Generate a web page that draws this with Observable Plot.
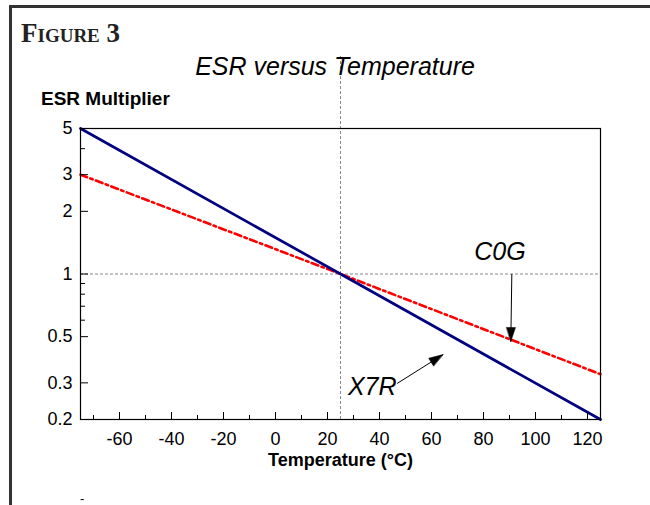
<!DOCTYPE html>
<html><head><meta charset="utf-8">
<script src="https://cdn.jsdelivr.net/npm/d3@7"></script>
<script src="https://cdn.jsdelivr.net/npm/@observablehq/plot@0.6"></script>
<style>
html,body{margin:0;padding:0;background:#fff;overflow:hidden;}
#wrap{position:relative;width:650px;height:505px;overflow:hidden;font-family:"Liberation Sans",Arial,sans-serif;color:#000;}
#wrap svg{position:absolute;left:0;top:0;}
#wrap svg g[aria-label$="tick label"]{font-size:18px;}
.border{position:absolute;left:9px;top:5px;width:700px;height:600px;border-left:3px solid #333;border-top:3px solid #333;box-sizing:border-box;}
.t{position:absolute;line-height:1;white-space:nowrap;}
</style></head><body><div id="wrap"><div class="border"></div></div>
<script>
// ---- data ----
const temps = [-75, 25, 125];
const x7r = [5, 1, 0.2];
const c0g = [3, 1, 0.33];
const xMajorTicks = [-60, -40, -20, 0, 20, 40, 60, 80, 100, 120];
const xMinorTicks = [-70, -50, -30, -10, 10, 30, 50, 70, 90, 110];
const yMajorTicks = [5, 3, 2, 1, 0.5, 0.3, 0.2];
const yMinorTicks = [4, 0.9, 0.8, 0.7, 0.6];
const xDomain = [-75, 125];
const yDomain = [0.2, 5];
const refTemp = [25];
const refMult = [1];
const refTempSpan = [0.2, 11.2];
const labelNames = ["C0G", "X7R"];
const labelTemps = [86.3, 37.2];
const labelMults = [1.27, 0.285];
const arrowFromTemps = [90.9, 46.8];
const arrowFromMults = [1.0, 0.298];
const arrowToTemps = [90.5, 64.4];
const arrowToMults = [0.474, 0.41];

// ---- build tables ----
const W = 650, H = 505, mL = 80, mR = 50, mT = 128, mB = 86;
const series = [
  ...temps.map((t, i) => ({t, v: x7r[i], s: "X7R"})),
  ...temps.map((t, i) => ({t, v: c0g[i], s: "C0G"}))
];
const labels = labelNames.map((n, i) => ({n, t: labelTemps[i], v: labelMults[i]}));
const xs = d3.scaleLinear(xDomain, [mL, W - mR]);
const ys = d3.scaleLog(yDomain, [H - mB, mT]);
const arrows = arrowFromTemps.map((t, i) => {
  const a = {x1: t, y1: arrowFromMults[i], x2: arrowToTemps[i], y2: arrowToMults[i]};
  const dx = xs(a.x2) - xs(a.x1), dy = ys(a.y2) - ys(a.y1);
  a.angle = Math.atan2(dx, -dy) * 180 / Math.PI;
  return a;
});
const headShape = {draw(ctx, l, r) { ctx.moveTo(0, -l); ctx.lineTo(-r, 0); ctx.lineTo(r, 0); ctx.closePath(); }};

const chart = Plot.plot({
  width: W, height: H,
  marginLeft: mL, marginRight: mR, marginTop: mT, marginBottom: mB,
  style: {fontFamily: "'Liberation Sans', Arial, sans-serif", fontSize: "18px", color: "black", background: "transparent"},
  x: {domain: xDomain},
  y: {type: "log", domain: yDomain},
  marks: [
    Plot.ruleY(refMult, {stroke: "#888", strokeDasharray: "3,2", strokeWidth: 1}),
    Plot.ruleX(refTemp, {y1: refTempSpan[0], y2: refTempSpan[1], stroke: "#888", strokeDasharray: "3,2", strokeWidth: 1}),
    Plot.line(series.filter(d => d.s === "C0G"), {x: "t", y: "v", stroke: "#ff0000", strokeWidth: 2.6, strokeDasharray: "7,3.5,2.5,3.5"}),
    Plot.line(series.filter(d => d.s === "X7R"), {x: "t", y: "v", stroke: "#000080", strokeWidth: 2.7}),
    Plot.frame({stroke: "black", strokeWidth: 1.2}),
    Plot.axisX(xMajorTicks, {tickSize: -7, tickPadding: 20, label: null, fontSize: 18, tickFormat: d => String(d)}),
    Plot.axisX(xMinorTicks, {tickSize: -4, tickFormat: () => "", label: null}),
    Plot.axisY(yMajorTicks, {tickSize: -8, tickPadding: 16, label: null, fontSize: 18, tickFormat: d => String(d)}),
    Plot.axisY(yMinorTicks, {tickSize: -5, tickFormat: () => "", label: null}),
    Plot.text(["Temperature (°C)"], {frameAnchor: "bottom", dy: 46, fontWeight: "bold", fontSize: 18}),
    Plot.text(labels, {x: "t", y: "v", text: "n", fontSize: 25, fontStyle: "italic"}),
    Plot.link(arrows, {x1: "x1", y1: "y1", x2: "x2", y2: "y2", stroke: "black", strokeWidth: 1}),
    Plot.vector(arrows, {x: "x2", y: "y2", rotate: "angle", length: 14, r: 4.5, anchor: "end", shape: headShape, fill: "black", stroke: "black", strokeWidth: 0.5})
  ]
});
const wrap = document.getElementById("wrap");
wrap.appendChild(chart);

function addText(txt, css) {
  const d = document.createElement("div");
  d.className = "t";
  d.textContent = txt;
  Object.assign(d.style, css);
  wrap.appendChild(d);
}
addText("Figure 3", {left: "21px", top: "20px", fontFamily: "'Liberation Serif', 'DejaVu Serif', serif", fontVariant: "small-caps", fontWeight: "bold", fontSize: "27px", color: "#222"});
addText("ESR versus Temperature", {left: "335px", top: "54px", transform: "translateX(-50%)", fontStyle: "italic", fontSize: "25px"});
addText("ESR Multiplier", {left: "41px", top: "89px", fontWeight: "bold", fontSize: "19px"});
addText("-", {left: "80px", top: "492px", fontSize: "13px"});
</script>
</body></html>
